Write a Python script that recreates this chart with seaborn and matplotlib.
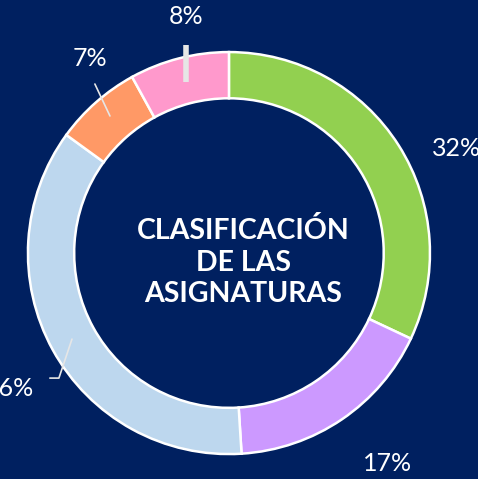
import seaborn as sns
import matplotlib.pyplot as plt

# datos
categorias = ["Grupo A", "Grupo B", "Grupo C", "Grupo D", "Grupo E"]
porcentajes = [32, 17, 36, 7, 8]
colores = ["#92D050", "#CC99FF", "#BDD7EE", "#FF9966", "#FF99CC"]
etiquetas = ["32%", "17%", "36%", "7%", "8%"]
titulo = "CLASIFICACIÓN\nDE LAS\nASIGNATURAS"

fondo = "#002060"

sns.set_theme(style="white")
plt.rcParams["font.family"] = ["Lato", "DejaVu Sans"]

fig = plt.figure(figsize=(4.78, 4.79), dpi=100, facecolor=fondo)
ax = fig.add_axes([0, 0, 1, 1])
ax.set_facecolor(fondo)

wedges, _ = ax.pie(porcentajes, colors=colores, startangle=90, counterclock=False,
                   radius=1.0, wedgeprops=dict(width=0.23, edgecolor="white", linewidth=1.8))

# posiciones de las etiquetas (como en el original)
pos_etiquetas = [(1.13, 0.522), (0.791, -1.045), (-1.09, -0.672),
                 (-0.692, 0.970), (-0.214, 1.179)]
for txt, (x, y) in zip(etiquetas, pos_etiquetas):
    ax.text(x, y, txt, color="white", fontsize=18, ha="center", va="center")

# lineas guia
ax.plot([-0.214, -0.214], [1.035, 0.851], color="#E6E6E6", lw=4, solid_capstyle="butt")
ax.plot([-0.667, -0.592], [0.841, 0.682], color="#E6E6E6", lw=1.2)
ax.plot([-0.781, -0.846, -0.891], [-0.428, -0.622, -0.622], color="#E6E6E6", lw=1.2)

ax.text(0.07, -0.045, titulo, color="white", fontsize=20.5, fontweight="bold",
        ha="center", va="center", linespacing=1.25)

ax.set_xlim(-1.139, 1.239)
ax.set_ylim(-1.124, 1.259)
ax.set_aspect("equal")
ax.axis("off")

plt.savefig("out.png", dpi=100, facecolor=fondo)
